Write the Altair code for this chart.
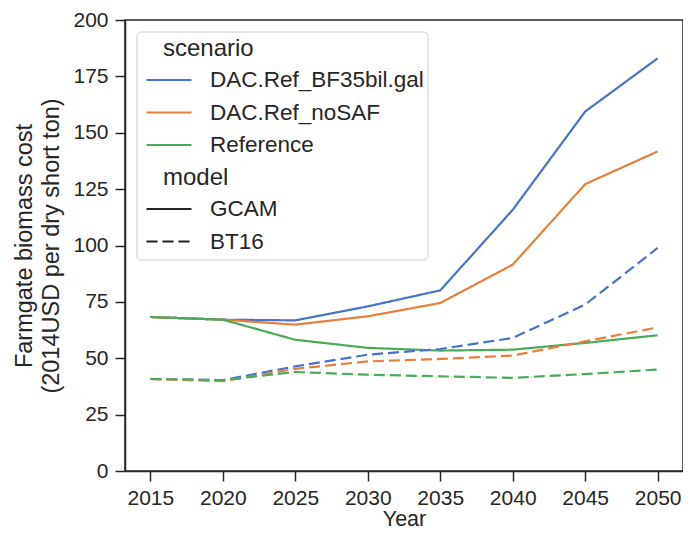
import altair as alt
import pandas as pd

years = [2015, 2020, 2025, 2030, 2035, 2040, 2045, 2050]
scenarios = ["DAC.Ref_BF35bil.gal", "DAC.Ref_noSAF", "Reference"]
models = ["GCAM", "BT16"]

gcam_bf35 = [68.3, 67.1, 66.8, 73.0, 80.1, 115.8, 159.4, 183.0]
gcam_nosaf = [68.3, 67.1, 64.9, 68.6, 74.5, 91.5, 127.2, 141.7]
gcam_ref = [68.3, 67.1, 58.2, 54.6, 53.4, 53.8, 56.8, 60.2]
bt16_bf35 = [40.8, 40.3, 46.4, 51.6, 54.1, 59.0, 73.8, 98.9]
bt16_nosaf = [40.8, 39.8, 45.3, 48.6, 49.7, 51.2, 57.5, 63.7]
bt16_ref = [40.8, 40.3, 43.9, 42.7, 42.0, 41.3, 43.0, 45.0]

y_ticks = [0, 25, 50, 75, 100, 125, 150, 175, 200]
colors = ["#4873c6", "#e5803f", "#4caa5a"]
ink = "#262626"
font = "Liberation Sans"

series = {
    ("DAC.Ref_BF35bil.gal", "GCAM"): gcam_bf35,
    ("DAC.Ref_noSAF", "GCAM"): gcam_nosaf,
    ("Reference", "GCAM"): gcam_ref,
    ("DAC.Ref_BF35bil.gal", "BT16"): bt16_bf35,
    ("DAC.Ref_noSAF", "BT16"): bt16_nosaf,
    ("Reference", "BT16"): bt16_ref,
}
rows = []
for (scen, model), vals in series.items():
    for yr, v in zip(years, vals):
        rows.append({"year": yr, "cost": v, "scenario": scen, "model": model})
df = pd.DataFrame(rows)

legend_common = dict(
    orient="none",
    title=None,
    symbolType="stroke",
    symbolSize=2025,
    symbolStrokeWidth=2.2,
    labelFontSize=22.5,
    labelFont=font,
    labelColor=ink,
    labelOffset=17,
    labelLimit=400,
    clipHeight=20,
    rowPadding=9.5,
    padding=0,
)

lines = alt.Chart(df).mark_line(strokeWidth=2.2).encode(
    x=alt.X(
        "year:Q",
        scale=alt.Scale(domain=[2013.25, 2051.75], nice=False, zero=False),
        axis=alt.Axis(values=years, format="d", title="Year", labelPadding=6, titlePadding=0),
    ),
    y=alt.Y(
        "cost:Q",
        scale=alt.Scale(domain=[0, 200], nice=False),
        axis=alt.Axis(
            values=y_ticks,
            title=["Farmgate biomass cost", "(2014USD per dry short ton)"],
            labelPadding=7,
            titlePadding=9,
        ),
    ),
    color=alt.Color(
        "scenario:N",
        scale=alt.Scale(domain=scenarios, range=colors),
        legend=alt.Legend(legendX=20, legendY=50, **legend_common),
    ),
    strokeDash=alt.StrokeDash(
        "model:N",
        scale=alt.Scale(domain=models, range=[[1, 0], [11, 5]]),
        legend=alt.Legend(legendX=20, legendY=179, symbolStrokeColor=ink, **legend_common),
    ),
)

box = alt.Chart(pd.DataFrame({"b": [0]})).mark_rect(
    fill="white", fillOpacity=0.8, stroke="#cccccc", strokeWidth=1, cornerRadius=4
).encode(x=alt.value(12), x2=alt.value(303), y=alt.value(12), y2=alt.value(240))

t1 = alt.Chart(pd.DataFrame({"t": ["scenario"]})).mark_text(
    align="left", baseline="middle", fontSize=24, font=font, color=ink
).encode(x=alt.value(38), y=alt.value(29), text="t:N")

t2 = alt.Chart(pd.DataFrame({"t": ["model"]})).mark_text(
    align="left", baseline="middle", fontSize=24, font=font, color=ink
).encode(x=alt.value(38), y=alt.value(158), text="t:N")

chart = (
    alt.layer(lines, box, t1, t2)
    .properties(
        width=558,
        height=451,
        padding={"left": 117, "top": 12, "right": 0, "bottom": 59},
        autosize=alt.AutoSizeParams(type="none"),
    )
    .configure_axis(
        labelFont=font,
        titleFont=font,
        labelFontSize=21,
        titleFontSize=21.5,
        titleFontWeight="normal",
        labelColor=ink,
        titleColor=ink,
        tickColor=ink,
        domainColor=ink,
        tickSize=10,
        tickWidth=1.5,
        domainWidth=1.5,
        grid=False,
    )
    .configure_axisY(titleFontSize=23.5, titleLineHeight=27)
    .configure_view(stroke=ink, strokeWidth=1.5)
)

chart.save("out.html", embed_options={"renderer": "svg", "actions": False})
